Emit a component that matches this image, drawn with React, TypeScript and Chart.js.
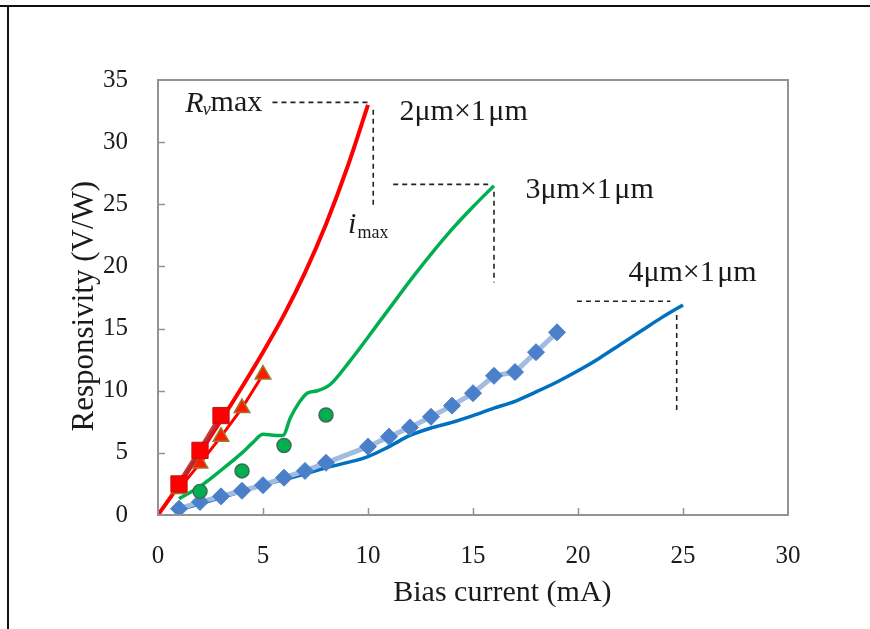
import { useEffect, useRef } from "react";
import { Chart, registerables } from "chart.js";
Chart.register(...registerables);

// ---- Model curves (solid lines) ----
const model2Current = [0, 1, 2, 3, 4, 5, 6, 7, 8, 9, 10];
const model2Resp = [0, 2.4, 5.0, 7.6, 10.3, 13.1, 16.1, 19.5, 23.4, 27.9, 33.0];

const model3Current = [1, 2, 3, 4, 4.5, 5.0, 5.6, 5.95, 6.3, 6.7, 7.1, 7.6, 8.2, 9.1, 10.7, 12.3, 13.9, 15.0, 16.0];
const model3Resp = [1.3, 2.3, 3.6, 5.0, 5.8, 6.5, 6.4, 6.4, 7.8, 9.0, 9.8, 10.0, 10.5, 12.3, 15.9, 19.5, 22.8, 24.8, 26.5];

const model4Current = [1, 2, 3, 4, 5, 6, 7, 8, 10, 11, 12, 13, 14, 15, 16, 17, 18, 19, 20, 21, 22, 23, 24, 25];
const model4Resp = [0.4, 0.9, 1.4, 1.9, 2.4, 2.85, 3.3, 3.8, 4.7, 5.5, 6.4, 7.0, 7.45, 8.0, 8.6, 9.15, 9.9, 10.7, 11.6, 12.6, 13.7, 14.8, 15.9, 16.9];

// ---- Measured points ----
const squareCurrent = [1, 2, 3];
const squareResp = [2.5, 5.2, 8.0];

const triangleCurrent = [1, 2, 3, 4, 5];
const triangleResp = [2.1, 4.15, 6.3, 8.6, 11.3];

const circleCurrent = [2, 4, 6, 8];
const circleResp = [1.9, 3.55, 5.6, 8.05];

const diamondCurrent = [1, 2, 3, 4, 5, 6, 7, 8, 10, 11, 12, 13, 14, 15, 16, 17, 18, 19];
const diamondResp = [0.5, 1.05, 1.5, 1.95, 2.4, 3.0, 3.55, 4.2, 5.5, 6.3, 7.05, 7.9, 8.8, 9.8, 11.2, 11.5, 13.1, 14.7];

// ---- Guide (dashed) segments: [x1, x2], [y1, y2] ----
const guideSegX = [[5.45, 10.0], [10.25, 10.25], [11.2, 15.8], [16.0, 16.0], [19.95, 24.4], [24.7, 24.7]];
const guideSegY = [[33.2, 33.2], [32.6, 24.7], [26.6, 26.6], [26.0, 18.7], [17.2, 17.2], [16.1, 8.2]];

// ---- Labels ----
const sizeLabels = ["2μm×1\u200Aμm", "3μm×1\u200Aμm", "4μm×1\u200Aμm"];
const sizeLabelX = [11.5, 17.5, 22.4];
const sizeLabelY = [32.4, 26.1, 19.5];

const xTicks = [0, 5, 10, 15, 20, 25, 30];
const yTicks = [0, 5, 10, 15, 20, 25, 30, 35];
const xTitle = "Bias current (mA)";
const yTitle = "Responsivity (V/W)";

const FONT = "'Liberation Serif', 'Times New Roman', serif";
const TEXT = "#1a1a1a";

const pts = (xs: number[], ys: number[]) => xs.map((x, i) => ({ x, y: ys[i] }));

const annotatePlugin = {
  id: "annotate",
  afterDraw(chart: any) {
    const { ctx, chartArea, scales } = chart;
    const xs = scales.x;
    const ys = scales.y;
    ctx.save();
    // frame
    ctx.strokeStyle = "#939393";
    ctx.lineWidth = 2;
    ctx.strokeRect(chartArea.left, chartArea.top, chartArea.right - chartArea.left, chartArea.bottom - chartArea.top);
    // inward ticks
    ctx.beginPath();
    xTicks.forEach((t) => {
      if (t === 0 || t === 30) return;
      const px = Math.round(xs.getPixelForValue(t)) + 0.5;
      ctx.moveTo(px, chartArea.bottom);
      ctx.lineTo(px, chartArea.bottom - 7);
    });
    yTicks.forEach((t) => {
      if (t === 0 || t === 35) return;
      const py = Math.round(ys.getPixelForValue(t)) + 0.5;
      ctx.moveTo(chartArea.left, py);
      ctx.lineTo(chartArea.left + 7, py);
    });
    ctx.lineWidth = 1.5;
    ctx.stroke();

    ctx.fillStyle = TEXT;
    ctx.textBaseline = "middle";
    ctx.textAlign = "center";
    // axis titles
    ctx.font = `30px ${FONT}`;
    ctx.fillText(xTitle, xs.getPixelForValue(16.4), chartArea.bottom + 78);
    ctx.save();
    ctx.translate(chartArea.left - 73, ys.getPixelForValue(16.8));
    ctx.rotate(-Math.PI / 2);
    ctx.font = `31px ${FONT}`;
    ctx.fillText(yTitle, 0, 0);
    ctx.restore();

    ctx.textAlign = "left";
    // size labels
    ctx.font = `30px ${FONT}`;
    sizeLabels.forEach((s, i) => {
      ctx.fillText(s, xs.getPixelForValue(sizeLabelX[i]), ys.getPixelForValue(sizeLabelY[i]));
    });
    // Rv max
    let x = xs.getPixelForValue(1.3);
    let y = ys.getPixelForValue(33.1);
    ctx.font = `italic 30px ${FONT}`;
    ctx.fillText("R", x, y);
    x += ctx.measureText("R").width - 1;
    ctx.font = `italic 18px ${FONT}`;
    ctx.fillText("v", x, y + 7);
    x += ctx.measureText("v").width;
    ctx.font = `30px ${FONT}`;
    ctx.fillText("max", x, y);
    // i max
    x = xs.getPixelForValue(9.05);
    y = ys.getPixelForValue(23.3);
    ctx.font = `italic 30px ${FONT}`;
    ctx.fillText("i", x, y);
    x += ctx.measureText("i").width + 1;
    ctx.font = `18px ${FONT}`;
    ctx.fillText("max", x, y + 8);
    ctx.restore();
  },
};

export default function App() {
  const ref = useRef<HTMLCanvasElement>(null);
  useEffect(() => {
    if (!ref.current) return;
    const guides = guideSegX.map((gx, i) => ({
      type: "line" as const,
      data: pts(gx, guideSegY[i]),
      borderColor: "#222",
      borderWidth: 1.6,
      borderDash: [5, 4],
      pointRadius: 0,
      fill: false,
      order: 20,
    }));
    const chart = new Chart(ref.current, {
      type: "line",
      data: {
        datasets: [
          {
            label: "2um model",
            data: pts(model2Current, model2Resp),
            borderColor: "#ff0000",
            borderWidth: 4,
            pointRadius: 0,
            cubicInterpolationMode: "monotone",
            order: 10,
          },
          {
            label: "3um model",
            data: pts(model3Current, model3Resp),
            borderColor: "#00b050",
            borderWidth: 3.5,
            pointRadius: 0,
            cubicInterpolationMode: "monotone",
            order: 10,
          },
          {
            label: "4um model",
            data: pts(model4Current, model4Resp),
            borderColor: "#0070c0",
            borderWidth: 3.5,
            pointRadius: 0,
            cubicInterpolationMode: "monotone",
            order: 10,
          },
          {
            label: "diamonds",
            data: pts(diamondCurrent, diamondResp),
            borderColor: "#a3bbdf",
            borderWidth: 5,
            pointStyle: "rectRot",
            pointRadius: 8.5,
            pointBackgroundColor: "#4a7fc9",
            pointBorderColor: "#4a7fc9",
            pointBorderWidth: 1,
            order: 3,
          },
          {
            label: "triangles",
            data: pts(triangleCurrent, triangleResp),
            borderColor: "#ff0000",
            borderWidth: 3,
            pointStyle: "triangle",
            pointRadius: 9,
            pointBackgroundColor: "#ff1a00",
            pointBorderColor: "#9a7a2a",
            pointBorderWidth: 1.5,
            order: 2,
          },
          {
            label: "squares",
            data: pts(squareCurrent, squareResp),
            borderColor: "rgba(185,40,40,0.9)",
            borderWidth: 5,
            pointStyle: "rect",
            pointRadius: 11.5,
            pointBackgroundColor: "#ff0000",
            pointBorderColor: "#c81010",
            pointBorderWidth: 1,
            order: 1,
          },
          {
            label: "circles",
            data: pts(circleCurrent, circleResp),
            showLine: false,
            pointStyle: "circle",
            pointRadius: 7,
            pointBackgroundColor: "#00b050",
            pointBorderColor: "#3d6b55",
            pointBorderWidth: 1.5,
            order: 2,
          },
          ...guides,
        ],
      },
      options: {
        animation: false,
        responsive: false,
        events: [],
        layout: { padding: { left: 8, top: 80, right: 82, bottom: 0 } },
        plugins: { legend: { display: false }, tooltip: { enabled: false } },
        scales: {
          x: {
            type: "linear",
            min: 0,
            max: 30,
            afterBuildTicks: (s: any) => {
              s.ticks = xTicks.map((v) => ({ value: v }));
            },
            ticks: { font: { family: FONT, size: 25 }, color: TEXT, padding: 26, maxRotation: 0 },
            grid: { display: false, drawTicks: false },
            border: { display: false },
            title: { display: false },
            afterFit: (s: any) => {
              s.height = 114;
            },
          },
          y: {
            type: "linear",
            min: 0,
            max: 35,
            afterBuildTicks: (s: any) => {
              s.ticks = yTicks.map((v) => ({ value: v }));
            },
            ticks: { font: { family: FONT, size: 25 }, color: TEXT, padding: 30 },
            grid: { display: false, drawTicks: false },
            border: { display: false },
            title: { display: false },
            afterFit: (s: any) => {
              s.width = 150;
            },
          },
        },
      },
      plugins: [annotatePlugin],
    } as any);
    return () => chart.destroy();
  }, []);
  return (
    <div style={{ position: "absolute", left: 0, top: 0, width: 870, height: 629, background: "#fff", overflow: "hidden" }}>
      <canvas ref={ref} width={870} height={629} style={{ display: "block" }} />
      <div style={{ position: "absolute", left: 0, top: 5, width: 870, height: 0, borderTop: "2px solid #111" }} />
      <div style={{ position: "absolute", left: 7, top: 5, width: 0, height: 629, borderLeft: "2px solid #111" }} />
    </div>
  );
}
